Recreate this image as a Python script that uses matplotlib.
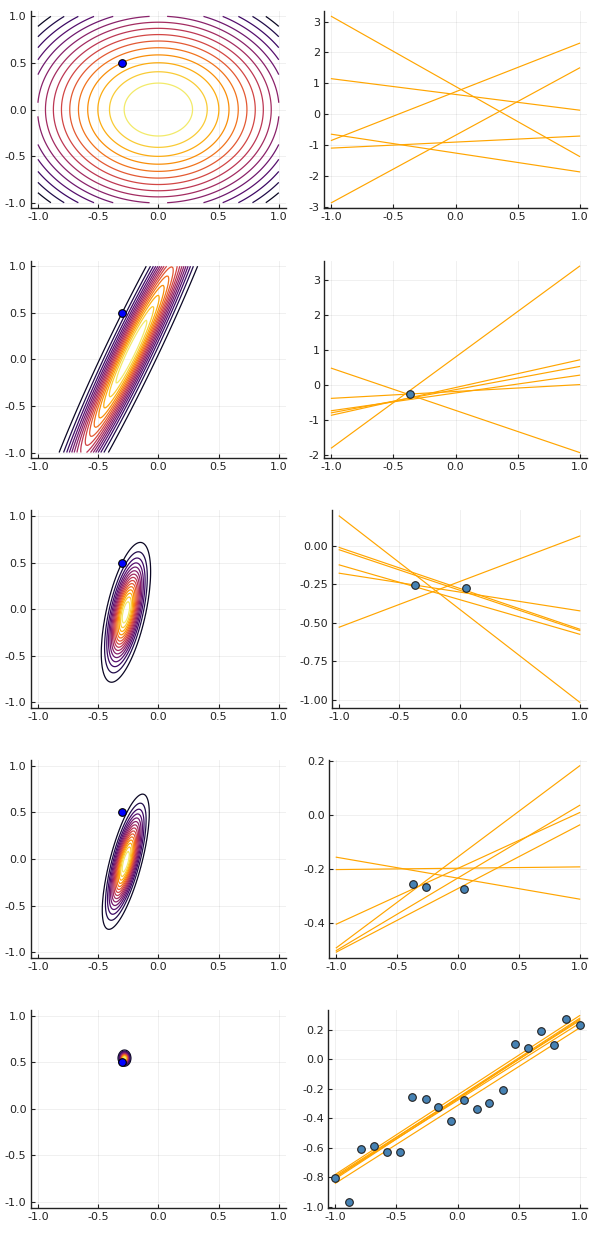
import numpy as np
import matplotlib
matplotlib.use("Agg")
import matplotlib.pyplot as plt
from matplotlib.ticker import MultipleLocator, FuncFormatter

plt.rcParams['font.family'] = ['DejaVu Sans']
plt.rcParams['axes.unicode_minus'] = False

# data points (x, t)
x_data = [-1.0, -0.89, -0.79, -0.68, -0.58, -0.47, -0.37, -0.26, -0.16, -0.05,
          0.05, 0.16, 0.26, 0.37, 0.47, 0.58, 0.68, 0.79, 0.89, 1.0]
t_data = [-0.805, -0.966, -0.609, -0.586, -0.627, -0.627, -0.256, -0.267, -0.321, -0.416,
          -0.274, -0.337, -0.299, -0.210, 0.104, 0.079, 0.190, 0.100, 0.274, 0.231]

# which points are seen in each row
seen = [[], [6], [6, 10], [6, 7, 10], list(range(20))]

w_true = [-0.3, 0.5]
alpha = 1.0
beta = 100.0

# sampled lines: y at x=-1 and y at x=1
x_line = [-1.0, 1.0]
line_left = [
    [3.17, 1.15, -0.85, -2.87, -0.65, -1.10],
    [0.48, -1.81, -0.385, -0.74, -0.80, -0.87],
    [0.193, -0.528, -0.011, -0.026, -0.124, -0.178],
    [-0.157, -0.203, -0.406, -0.494, -0.504, -0.51],
    [-0.78, -0.80, -0.79, -0.81, -0.80, -0.84],
]
line_right = [
    [-1.37, 0.13, 2.30, 1.50, -1.87, -0.71],
    [-1.94, 3.41, 0.01, 0.28, 0.53, 0.72],
    [-1.015, 0.063, -0.541, -0.55, -0.574, -0.422],
    [-0.313, -0.193, 0.009, 0.183, 0.036, -0.037],
    [0.296, 0.278, 0.262, 0.27, 0.244, 0.213],
]
ystep = [1, 1, 0.25, 0.2, 0.2]
ydec = [0, 0, 2, 1, 1]

W, H = 599, 1249
fig = plt.figure(figsize=(W / 100, H / 100), dpi=100)

def px_axes(x0, x1, top, bot):
    return fig.add_axes([x0 / W, 1 - bot / H, (x1 - x0) / W, (bot - top) / H])

def style(ax):
    for s in ['top', 'right']:
        ax.spines[s].set_visible(False)
    for s in ['left', 'bottom']:
        ax.spines[s].set_color('#222222')
        ax.spines[s].set_linewidth(1.0)
    ax.tick_params(direction='in', length=3, width=0.8, labelsize=8, colors='#222222', pad=3)
    ax.grid(True, color='black', alpha=0.07, lw=0.6)
    ax.set_axisbelow(True)

def fmt(d):
    def f(v, pos):
        v = round(v, 6)
        if v == 0:
            v = 0.0
        return ('%.' + str(d) + 'f') % v
    return FuncFormatter(f)

g = np.linspace(-1, 1, 201)
W0, W1 = np.meshgrid(g, g)
xd = np.array(x_data)
td = np.array(t_data)
cmap = plt.get_cmap('inferno')
right_x0 = [324, 324, 332, 329, 328]

for r in range(5):
    top = 10.8 + 249.8 * r
    bot = 208.3 + 249.8 * r

    # posterior over (w0, w1)
    idx = seen[r]
    Phi = np.column_stack([np.ones(len(idx)), xd[idx]])
    P = alpha * np.eye(2) + beta * Phi.T @ Phi
    S = np.linalg.inv(P)
    m = beta * S @ Phi.T @ td[idx]
    d0 = W0 - m[0]
    d1 = W1 - m[1]
    q = P[0, 0] * d0**2 + 2 * P[0, 1] * d0 * d1 + P[1, 1] * d1**2
    z = np.exp(-0.5 * q)
    levels = np.linspace(z.min(), z.max(), 17)[1:-1]

    ax = px_axes(30.7, 286, top, bot)
    style(ax)
    ax.contour(W0, W1, z, levels=levels, cmap=cmap, vmin=z.min(), vmax=z.max(), linewidths=0.9)
    ax.plot(w_true[0], w_true[1], 'o', ms=5.5, mfc='blue', mec='black', mew=0.8, zorder=5)
    ax.set_xlim(-1.06, 1.06)
    ax.set_ylim(-1.06, 1.06)
    ax.xaxis.set_major_locator(MultipleLocator(0.5))
    ax.yaxis.set_major_locator(MultipleLocator(0.5))
    ax.xaxis.set_major_formatter(fmt(1))
    ax.yaxis.set_major_formatter(fmt(1))

    # data space
    ax2 = px_axes(right_x0[r], 587, top, bot)
    style(ax2)
    for a, b in zip(line_left[r], line_right[r]):
        ax2.plot(x_line, [a, b], color='orange', lw=0.85)
    ys = line_left[r] + line_right[r]
    if idx:
        ax2.plot(xd[idx], td[idx], 'o', ms=5.5, mfc='steelblue', mec='#222222', mew=0.8, zorder=5)
        ys = ys + list(td[idx])
    lo, hi = min(ys), max(ys)
    pad = 0.03 * (hi - lo)
    ax2.set_ylim(lo - pad, hi + pad)
    ax2.set_xlim(-1.06, 1.06)
    ax2.xaxis.set_major_locator(MultipleLocator(0.5))
    ax2.yaxis.set_major_locator(MultipleLocator(ystep[r]))
    ax2.xaxis.set_major_formatter(fmt(1))
    ax2.yaxis.set_major_formatter(fmt(ydec[r]))

fig.savefig('out.png', dpi=100)
